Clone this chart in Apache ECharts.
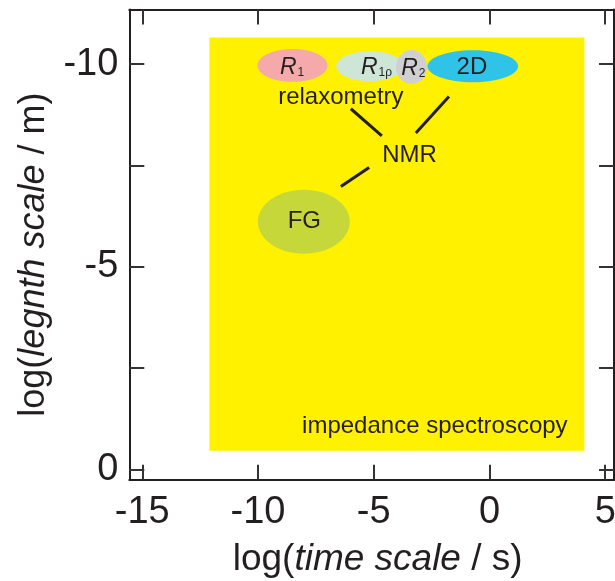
<!DOCTYPE html>
<html>
<head>
<meta charset="utf-8">
<script src="https://cdn.jsdelivr.net/npm/echarts@6/dist/echarts.min.js"></script>
<style>
  html, body { margin: 0; padding: 0; background: #ffffff; }
  #chart { width: 615px; height: 581px; }
</style>
</head>
<body>
<div id="chart"></div>
<script>
// Axis ranges (log10 units)
const xRange = [-15.56, 5.38];
const yRange = [-11.35, 0.257];
const xTicks = [-15, -10, -5, 0, 5];
const yTicks = [-10, -7.5, -5, -2.5, 0];
const yTickLabels = [-10, -5, 0];

// Impedance spectroscopy window
const bandX = [-12.1, 4.1];
const bandY = [-10.66, -0.46];

// NMR technique ellipses: centre, width, height
const ellipseNames = ['R1', 'R1rho', 'R2', '2D', 'FG'];
const ellipseX = [-8.51, -5.17, -3.37, -0.72, -8.02];
const ellipseY = [-9.97, -9.95, -9.93, -9.95, -6.11];
const ellipseW = [3.02, 2.9, 1.34, 3.91, 3.97];
const ellipseH = [0.81, 0.74, 0.84, 0.79, 1.58];
const ellipseColors = ['#f5a9aa', '#cde6d6', '#d0d0d2', '#30c3e8', '#c6d73a'];

// Connector segments between the labels
const linkFrom = [[-5.99, -8.90], [-1.75, -9.20], [-5.20, -7.45]];
const linkTo = [[-4.65, -8.23], [-3.18, -8.30], [-6.42, -6.98]];

// Text labels
const labelMain = ['R', 'R', 'R', '2D', 'relaxometry', 'NMR', 'FG', 'impedance spectroscopy'];
const labelSub = ['1', '1\u03c1', '2', '', '', '', '', ''];
const labelX = [-8.53, -4.88, -3.29, -0.76, -6.42, -3.45, -8.0, -2.36];
const labelY = [-9.96, -9.96, -9.93, -9.93, -9.19, -7.74, -6.11, -1.07];

const ink = '#231f20';
const font = "'Liberation Sans', Arial, Helvetica, sans-serif";

const chart = echarts.init(document.getElementById('chart'));

const axisCommon = {
  type: 'value',
  axisLine: { show: true, onZero: false, lineStyle: { color: ink, width: 2 } },
  splitLine: { show: false },
  axisTick: { show: true, inside: true, length: 15, lineStyle: { color: '#333', width: 2 } }
};

chart.setOption({
  animation: false,
  grid: { left: 129.3, right: 1, top: 9.5, bottom: 101.3, containLabel: false, outerBoundsMode: 'none' },
  xAxis: [
    Object.assign({}, axisCommon, {
      position: 'bottom', min: xRange[0], max: xRange[1],
      axisTick: Object.assign({}, axisCommon.axisTick, { customValues: xTicks }),
      axisLabel: { customValues: xTicks, margin: 14, fontSize: 38, color: ink, fontFamily: font },
      name: '{n|log(}{i|time scale}{n| / s)}',
      nameLocation: 'middle', nameGap: 62,
      nameTextStyle: {
        fontSize: 37, color: ink, fontFamily: font, padding: [0, 0, 0, 12],
        rich: { n: { fontSize: 37, color: ink, fontFamily: font },
                i: { fontSize: 37, color: ink, fontFamily: font, fontStyle: 'italic' } }
      }
    }),
    Object.assign({}, axisCommon, {
      position: 'top', min: xRange[0], max: xRange[1],
      axisTick: Object.assign({}, axisCommon.axisTick, { customValues: xTicks }),
      axisLabel: { show: false }
    })
  ],
  yAxis: [
    Object.assign({}, axisCommon, {
      position: 'left', inverse: true, min: yRange[0], max: yRange[1],
      axisTick: Object.assign({}, axisCommon.axisTick, { customValues: yTicks }),
      axisLabel: { customValues: yTickLabels, margin: 11, fontSize: 38, color: ink, fontFamily: font },
      name: '{n|log(}{i|legnth scale}{n| / m)}',
      nameLocation: 'middle', nameGap: 74,
      nameTextStyle: {
        fontSize: 36, color: ink, fontFamily: font, padding: [0, 20, 0, 0],
        rich: { n: { fontSize: 36, color: ink, fontFamily: font },
                i: { fontSize: 36, color: ink, fontFamily: font, fontStyle: 'italic' } }
      }
    }),
    Object.assign({}, axisCommon, {
      position: 'right', inverse: true, min: yRange[0], max: yRange[1],
      axisTick: Object.assign({}, axisCommon.axisTick, { customValues: yTicks }),
      axisLabel: { show: false }
    })
  ],
  series: [
    {
      // yellow window
      type: 'custom', xAxisIndex: 0, yAxisIndex: 0, z: 1,
      data: [[bandX[0], bandY[0], bandX[1], bandY[1]]],
      renderItem: function (params, api) {
        const p0 = api.coord([api.value(0), api.value(1)]);
        const p1 = api.coord([api.value(2), api.value(3)]);
        return {
          type: 'rect',
          shape: { x: Math.min(p0[0], p1[0]), y: Math.min(p0[1], p1[1]),
                   width: Math.abs(p1[0] - p0[0]), height: Math.abs(p1[1] - p0[1]) },
          style: { fill: '#fff100' }
        };
      }
    },
    {
      // technique ellipses
      type: 'custom', xAxisIndex: 0, yAxisIndex: 0, z: 2,
      data: ellipseNames.map((n, i) => [ellipseX[i], ellipseY[i], ellipseW[i], ellipseH[i]]),
      renderItem: function (params, api) {
        const c = api.coord([api.value(0), api.value(1)]);
        const s = api.size([api.value(2), api.value(3)]);
        return {
          type: 'ellipse',
          shape: { cx: c[0], cy: c[1], rx: s[0] / 2, ry: s[1] / 2 },
          style: { fill: ellipseColors[params.dataIndex] }
        };
      }
    },
    {
      // connector lines
      type: 'custom', xAxisIndex: 0, yAxisIndex: 0, z: 3,
      data: linkFrom.map((a, i) => [a[0], a[1], linkTo[i][0], linkTo[i][1]]),
      renderItem: function (params, api) {
        const p0 = api.coord([api.value(0), api.value(1)]);
        const p1 = api.coord([api.value(2), api.value(3)]);
        return {
          type: 'line',
          shape: { x1: p0[0], y1: p0[1], x2: p1[0], y2: p1[1] },
          style: { stroke: ink, lineWidth: 3 }
        };
      }
    },
    {
      // labels
      type: 'custom', xAxisIndex: 0, yAxisIndex: 0, z: 4,
      data: labelMain.map((t, i) => [labelX[i], labelY[i]]),
      renderItem: function (params, api) {
        const i = params.dataIndex;
        const c = api.coord([api.value(0), api.value(1)]);
        const sub = labelSub[i];
        const text = sub ? '{r|' + labelMain[i] + '}{s|' + sub + '}' : labelMain[i];
        return {
          type: 'text',
          x: c[0], y: c[1],
          style: {
            text: text,
            align: 'center', verticalAlign: 'middle',
            fontSize: 24, fontFamily: font, fill: ink,
            rich: {
              r: { fontSize: 23, fontStyle: 'italic', fontFamily: font, fill: ink, lineHeight: 26, verticalAlign: 'bottom' },
              s: { fontSize: 12, fontFamily: font, fill: ink, lineHeight: 10, verticalAlign: 'bottom', padding: [0, 0, 0, 1] }
            }
          }
        };
      }
    }
  ]
});
</script>
</body>
</html>
